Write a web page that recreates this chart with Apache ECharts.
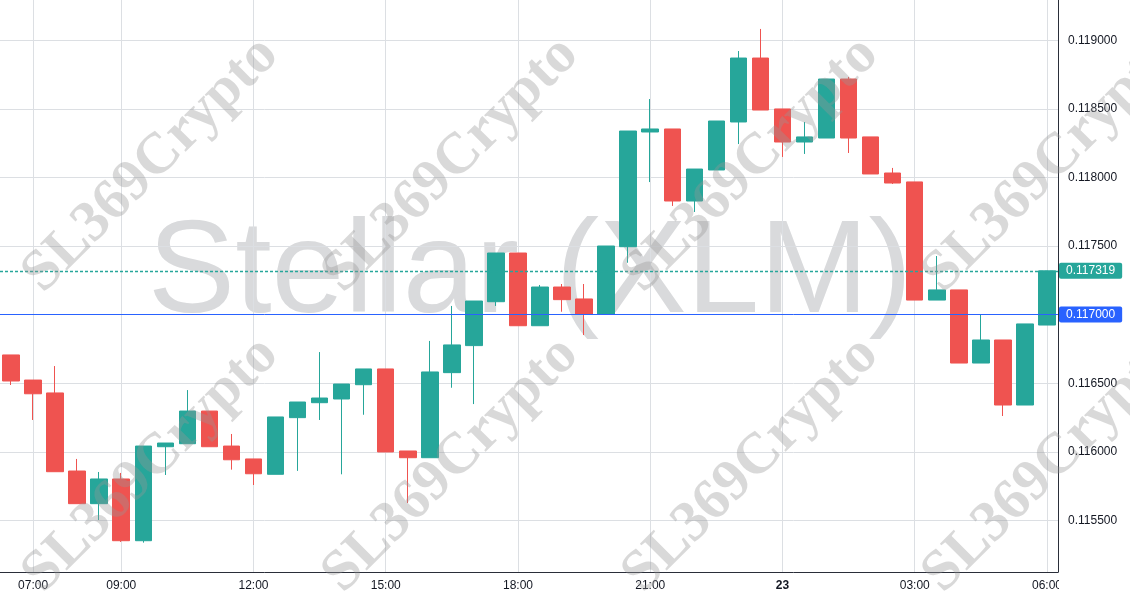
<!DOCTYPE html>
<html>
<head>
<meta charset="utf-8">
<script src="https://cdn.jsdelivr.net/npm/echarts@6/dist/echarts.min.js"></script>
<style>
html,body{margin:0;padding:0;background:#fff;}
#chart{width:1130px;height:600px;}
</style>
</head>
<body>
<div id="chart"></div>
<script>
const times = ["06:30","07:00","07:30","08:00","08:30","09:00","09:30","10:00","10:30","11:00","11:30","12:00",
  "12:30","13:00","13:30","14:00","14:30","15:00","15:30","16:00","16:30","17:00","17:30","18:00",
  "18:30","19:00","19:30","20:00","20:30","21:00","21:30","22:00","22:30","23:00","23:30","00:00",
  "00:30","01:00","01:30","02:00","02:30","03:00","03:30","04:00","04:30","05:00","05:30","06:00"];
const opens = [0.116706,0.116523,0.116429,0.115860,0.115622,0.115802,0.115352,0.116037,0.116059,0.116297,0.116042,0.115948,
  0.115836,0.116249,0.116358,0.116385,0.116489,0.116604,0.116006,0.115957,0.116577,0.116774,0.117094,0.117449,
  0.116919,0.117201,0.117114,0.117004,0.117495,0.118331,0.118353,0.117828,0.118054,0.118404,0.118870,0.118499,
  0.118258,0.118287,0.118717,0.118295,0.118032,0.117967,0.117106,0.117180,0.116647,0.116815,0.116341,0.116924];
const closes = [0.116516,0.116423,0.115855,0.115622,0.115802,0.115352,0.116042,0.116064,0.116297,0.116037,0.115942,0.115840,
  0.116254,0.116363,0.116392,0.116494,0.116604,0.115999,0.115957,0.116582,0.116779,0.117099,0.117449,0.116919,
  0.117201,0.117109,0.117004,0.117500,0.118338,0.118353,0.117828,0.118061,0.118411,0.118870,0.118491,0.118258,
  0.118295,0.118717,0.118287,0.118025,0.117959,0.117106,0.117180,0.116647,0.116815,0.116341,0.116932,0.117319];
const lows = [0.116487,0.116232,0.115855,0.115622,0.115503,0.115343,0.115338,0.115831,0.116059,0.116037,0.115870,0.115758,
  0.115836,0.115861,0.116232,0.115836,0.116270,0.115999,0.115627,0.115957,0.116467,0.116348,0.117063,0.116919,
  0.116919,0.117021,0.116851,0.117004,0.117378,0.117966,0.117792,0.117748,0.118054,0.118243,0.118491,0.118149,
  0.118171,0.118287,0.118178,0.118025,0.117952,0.117106,0.117106,0.116647,0.116647,0.116261,0.116341,0.116924];
const highs = [0.116706,0.116523,0.116625,0.115948,0.115853,0.115846,0.116042,0.116064,0.116450,0.116297,0.116130,0.115948,
  0.116254,0.116363,0.116727,0.116494,0.116604,0.116604,0.116006,0.116808,0.117063,0.117099,0.117449,0.117449,
  0.117216,0.117223,0.117223,0.117500,0.118338,0.118571,0.118353,0.118061,0.118411,0.118921,0.119082,0.118499,
  0.118404,0.118717,0.118732,0.118295,0.118069,0.117967,0.117427,0.117180,0.117004,0.116815,0.116932,0.117319];
const xTickLabels = ["07:00","09:00","12:00","15:00","18:00","21:00","00:00","03:00","06:00"];
const yTickValues = [0.1155,0.1160,0.1165,0.1170,0.1175,0.1180,0.1185,0.1190];
const lastPrice = 0.117319;
const levelPrice = 0.117000;
const yMin = 0.115124, yMax = 0.119293;

const candles = times.map((t,i)=>[opens[i],closes[i],lows[i],highs[i]]);
const UP = '#26a69a', DOWN = '#ef5350', BLUE = '#2962ff';
const tickShown = (idx, val) => xTickLabels.indexOf(val) >= 0;

const wmStyle = {text:'SL369Crypto', fill:'rgba(150,150,150,0.36)', font:'bold 58px "Liberation Serif", "DejaVu Serif", serif', align:'center', verticalAlign:'middle'};
const wmCenters = [[151,165],[451,165],[751,165],[1051,165],[151,465],[451,465],[751,465],[1051,465]];
const graphics = [{
  type:'text', x:530, y:276, z:-10, silent:true,
  style:{text:'Stellar (XLM)', fill:'#d9dadc', font:'131px "Liberation Sans", Arial, sans-serif', align:'center', verticalAlign:'middle'}
},{
  type:'rect', z:50, silent:true, shape:{x:1059, y:574, width:71, height:26}, style:{fill:'#ffffff'}
}].concat(wmCenters.map(c=>({type:'text', x:c[0], y:c[1], rotation:Math.PI/4, z:100, silent:true, style:Object.assign({}, wmStyle)})));

const lblBase = {show:true, position:'end', distance:1, color:'#fff', padding:[2,7,1,7], borderRadius:2, fontSize:12, lineHeight:13};

const chart = echarts.init(document.getElementById('chart'), null, {renderer:'canvas'});
chart.setOption({
  animation:false,
  backgroundColor:'#ffffff',
  textStyle:{fontFamily:'"Liberation Sans", Arial, sans-serif'},
  grid:{left:-1, right:72, top:0, bottom:28, containLabel:false},
  graphic: graphics,
  xAxis:{
    type:'category', data:times, boundaryGap:true,
    axisLine:{show:true, lineStyle:{color:'#2a2e39', width:1}},
    axisTick:{show:false, interval:tickShown, alignWithLabel:true},
    axisLabel:{interval:tickShown, color:'#131722', fontSize:12, margin:8,
      formatter:(v)=> v==='00:00' ? '{b|23}' : v,
      rich:{b:{fontWeight:'bold', fontSize:12, color:'#131722'}}},
    splitLine:{show:true, interval:tickShown, alignWithLabel:true, lineStyle:{color:'#dcdfe3', width:1}}
  },
  yAxis:{
    type:'value', position:'right', min:yMin, max:yMax, scale:true,
    axisLine:{show:true, lineStyle:{color:'#2a2e39', width:1}},
    axisTick:{show:false, customValues:yTickValues},
    axisLabel:{color:'#131722', fontSize:12, margin:10, customValues:yTickValues,
      formatter:(v)=>v.toFixed(6)},
    splitLine:{show:true, lineStyle:{color:'#dcdfe3', width:1}}
  },
  series:[{
    type:'candlestick', data:candles, barWidth:17, clip:false,
    itemStyle:{color:UP, color0:DOWN, borderColor:UP, borderColor0:DOWN, borderWidth:1},
    markLine:{
      silent:true, symbol:['none','none'], animation:false, precision:6,
      emphasis:{disabled:true},
      lineStyle:{color:UP, width:1.3, type:[3,2], opacity:1},
      label:Object.assign({}, lblBase, {formatter:lastPrice.toFixed(6), backgroundColor:UP}),
      data:[{yAxis:lastPrice}]
    }
  },{
    type:'line', data:times.map(()=>null), showSymbol:false, clip:false, silent:true,
    color:BLUE,
    markLine:{
      silent:true, symbol:['none','none'], animation:false, precision:6,
      emphasis:{disabled:true},
      lineStyle:{color:BLUE, width:1, type:'solid', opacity:1},
      label:Object.assign({}, lblBase, {formatter:levelPrice.toFixed(6), backgroundColor:BLUE}),
      data:[{yAxis:levelPrice}]
    }
  }]
});
</script>
</body>
</html>
